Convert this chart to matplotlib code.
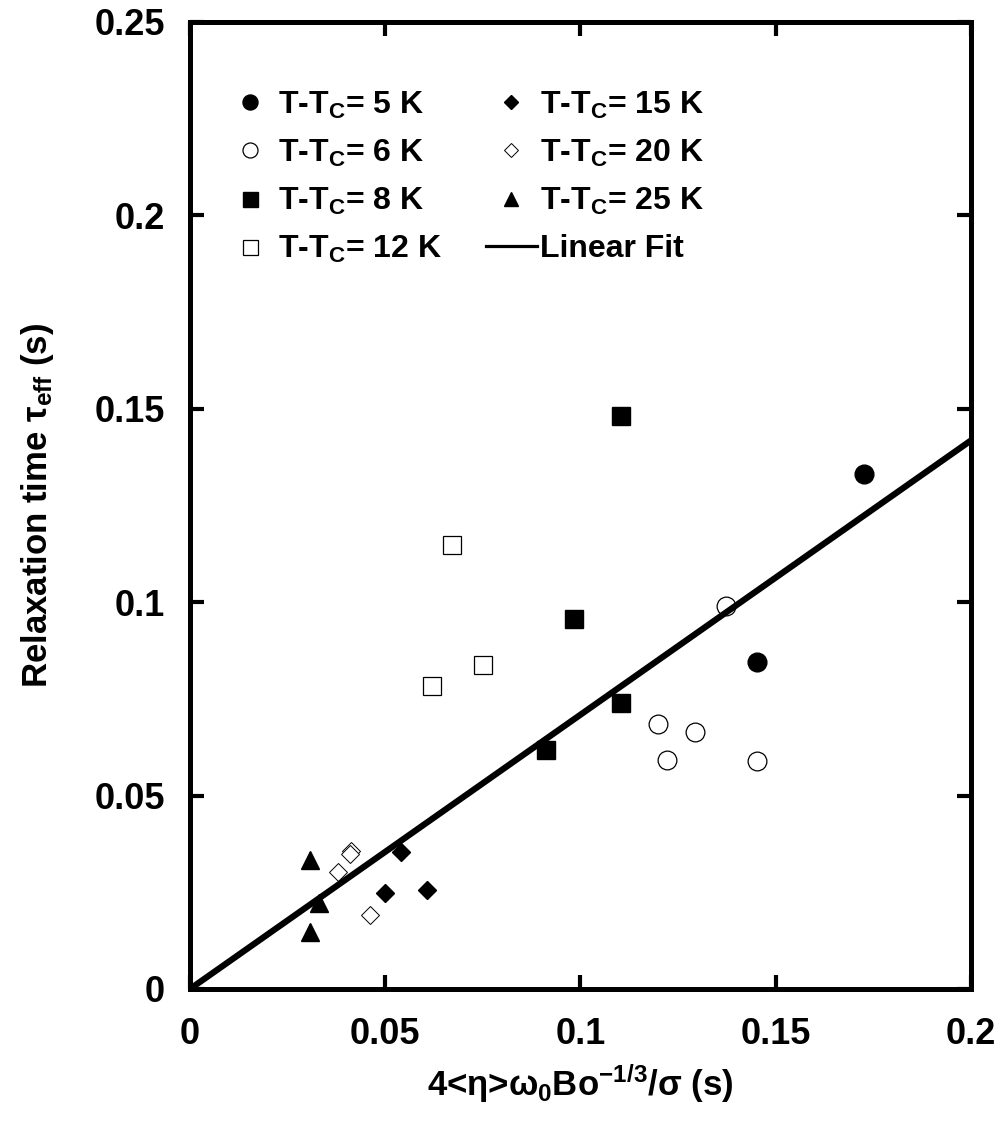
import matplotlib
matplotlib.use("Agg")
import matplotlib.pyplot as plt
from matplotlib.lines import Line2D
from matplotlib.ticker import FuncFormatter

plt.rcParams["font.family"] = ["Liberation Sans", "DejaVu Sans"]
plt.rcParams["font.weight"] = "bold"
plt.rcParams["axes.labelweight"] = "bold"
plt.rcParams["mathtext.fontset"] = "custom"
plt.rcParams["mathtext.rm"] = "Liberation Sans:bold"
plt.rcParams["mathtext.it"] = "Liberation Sans:bold"
plt.rcParams["mathtext.bf"] = "Liberation Sans:bold"
plt.rcParams["mathtext.sf"] = "Liberation Sans:bold"

# data
x_5K = [0.1726, 0.1452]
y_5K = [0.1331, 0.0845]
x_6K = [0.1373, 0.1198, 0.1294, 0.1222, 0.1452]
y_6K = [0.0990, 0.0685, 0.0664, 0.0592, 0.0589]
x_8K = [0.1104, 0.1104, 0.0983, 0.0912]
y_8K = [0.1481, 0.0739, 0.0957, 0.0618]
x_12K = [0.0671, 0.0750, 0.0620]
y_12K = [0.1148, 0.0838, 0.0783]
x_15K = [0.0540, 0.0499, 0.0607]
y_15K = [0.0354, 0.0248, 0.0256]
x_20K = [0.0412, 0.0410, 0.0379, 0.0461]
y_20K = [0.0356, 0.0349, 0.0302, 0.0191]
x_25K = [0.0307, 0.0330, 0.0307]
y_25K = [0.0333, 0.0222, 0.0147]
fit_slope = 0.709
fit_x = [0.0, 0.2]

xticks = [0, 0.05, 0.1, 0.15, 0.2]
yticks = [0, 0.05, 0.1, 0.15, 0.2, 0.25]

fig = plt.figure(figsize=(10.02, 11.37), dpi=100)
ax = fig.add_axes([0.1896, 0.1302, 0.7794, 0.8505])

ax.plot(x_5K, y_5K, "o", color="black", ms=13.5, mew=1, label=r"T-T$_C$= 5 K")
ax.plot(x_6K, y_6K, "o", mfc="white", mec="black", ms=13.5, mew=0.9, label=r"T-T$_C$= 6 K")
ax.plot(x_8K, y_8K, "s", color="black", ms=13.5, mew=1, label=r"T-T$_C$= 8 K")
ax.plot(x_12K, y_12K, "s", mfc="white", mec="black", ms=13.5, mew=0.9, label=r"T-T$_C$= 12 K")
ax.plot(x_15K, y_15K, "D", color="black", ms=9.3, mew=1, label=r"T-T$_C$= 15 K")
ax.plot(x_20K, y_20K, "D", mfc="white", mec="black", ms=9.3, mew=0.7, label=r"T-T$_C$= 20 K")
ax.plot(x_25K, y_25K, "^", color="black", ms=13, mew=1, label=r"T-T$_C$= 25 K")
fit_y = [fit_slope * v for v in fit_x]
ax.plot(fit_x, fit_y, "-", color="black", lw=4.5)

handles, labels = ax.get_legend_handles_labels()
handles.append(Line2D([], [], color="black", lw=2.3))
labels.append("Linear Fit")
ax.legend(handles, labels, ncol=2, loc="upper left", bbox_to_anchor=(0.0435, 0.930),
          frameon=False, fontsize=23, markerscale=0.8, handlelength=1.6,
          handletextpad=0.1, columnspacing=1.37, labelspacing=0.53,
          borderpad=0, borderaxespad=0)

ax.set_xlim(0, 0.2)
ax.set_ylim(0, 0.25)
ax.set_xticks(xticks)
ax.set_yticks(yticks)
fmt = FuncFormatter(lambda v, p: "%g" % v)
ax.xaxis.set_major_formatter(fmt)
ax.yaxis.set_major_formatter(fmt)
ax.tick_params(direction="in", length=10, width=3, labelsize=26, top=True, right=True)
ax.tick_params(axis="x", pad=20)
ax.tick_params(axis="y", pad=18)
for s in ax.spines.values():
    s.set_linewidth(3.6)

ax.set_xlabel(r"4<$\eta$>$\omega_0$Bo$^{-1/3}$/$\sigma$ (s)", fontsize=25, labelpad=8)
ax.set_ylabel(r"Relaxation time $\tau_{eff}$ (s)", fontsize=25, labelpad=28)

plt.savefig("out.png", dpi=100)
